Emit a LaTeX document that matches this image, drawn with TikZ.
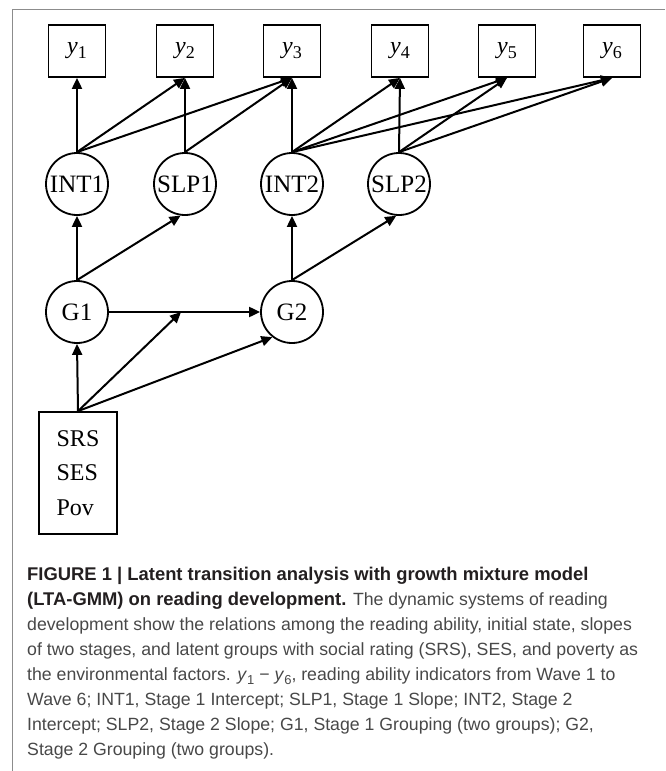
\documentclass[tikz,border=0pt]{standalone}
\usepackage{fontspec}
\setmainfont{Liberation Serif}
\newfontfamily\capfont{Liberation Sans}
\usetikzlibrary{arrows.meta}
\definecolor{framegray}{RGB}{140,140,140}
\definecolor{captxt}{RGB}{72,72,72}
\definecolor{capbold}{RGB}{35,31,32}
\newcommand\ylab[1]{\textit{y}\raisebox{-0.18em}{\fontsize{18}{18}\selectfont #1}}
\newcommand\ycap[1]{\textit{y}\raisebox{-0.25em}{\fontsize{13}{13}\selectfont #1}}
\newcommand\capb[1]{\textcolor{capbold}{\fontsize{18.4}{25}\selectfont\bfseries #1}}
\begin{document}
\begin{tikzpicture}[x=1pt,y=-1pt,
  obs/.style={draw, line width=1.8pt, minimum width=57pt, minimum height=52pt, inner sep=0pt, font=\fontsize{24}{24}\selectfont},
  lat/.style={draw, circle, line width=1.8pt, minimum size=62pt, inner sep=0pt, font=\fontsize{25}{25}\selectfont},
  arr/.style={-{Triangle[length=11pt,width=10pt]}, line width=2pt},
  capline/.style={anchor=base west, inner sep=0pt, text=captxt, font=\capfont\fontsize{17.7}{25}\selectfont}]
\useasboundingbox (0,0) rectangle (665,771);
\draw[framegray, line width=1pt] (12,771) -- (12,9) -- (665,9);
% observed
\node[obs] (y1) at (77,51) {\ylab{1}};
\node[obs] (y2) at (185,51) {\ylab{2}};
\node[obs] (y3) at (292,51) {\ylab{3}};
\node[obs] (y4) at (400,51) {\ylab{4}};
\node[obs] (y5) at (507,51) {\ylab{5}};
\node[obs] (y6) at (612,51) {\ylab{6}};
% latent
\node[lat] (I1) at (77,184) {INT1};
\node[lat] (S1) at (185,184) {SLP1};
\node[lat] (I2) at (292,184) {INT2};
\node[lat] (S2) at (399,184) {SLP2};
\node[lat] (G1) at (77,312) {G1};
\node[lat] (G2) at (292,312) {G2};
\node[draw, line width=1.8pt, minimum width=78pt, minimum height=122pt, align=left, font=\fontsize{24}{34.5}\selectfont] (X) at (78,473) {SRS\\SES\\Pov};
\coordinate (m) at (181,312);
% arrows to indicators
\draw[arr] (I1.north) -- (y1.south);
\draw[arr] (I1.north) -- (y2.south);
\draw[arr] (I1.north) -- (y3.south);
\draw[arr] (S1.north) -- (y2.south);
\draw[arr] (S1.north) -- (y3.south);
\draw[arr] (I2.north) -- (y3.south);
\draw[arr] (I2.north) -- (y4.south);
\draw[arr] (I2.north) -- (y5.south);
\draw[arr] (I2.north) -- (y6.south);
\draw[arr] (S2.north) -- (y4.south);
\draw[arr] (S2.north) -- (y5.south);
\draw[arr] (S2.north) -- (y6.south);
% groups
\draw[arr] (G1.north) -- (I1.south);
\draw[arr] (G1.north) -- (S1.262);
\draw[arr] (G2.north) -- (I2.south);
\draw[arr] (G2.north) -- (S2.265);
\draw[arr] (G1.east) -- (G2.west);
% covariates
\draw[arr] (X.north) -- (G1.south);
\draw[arr] (X.north) -- (m);
\draw[arr] (X.north) -- (G2.232);
% caption
\node[capline] (c1) at (27,580.5) {\capb{FIGURE 1 | Latent transition analysis with growth mixture model}};
\node[capline] (c2) at (27,605.5) {\capb{(LTA-GMM) on reading development.} The dynamic systems of reading};
\node[capline] (c3) at (27,630.5) {development show the relations among the reading ability, initial state, slopes};
\node[capline] (c4) at (27,655.5) {of two stages, and latent groups with social rating (SRS), SES, and poverty as};
\node[capline] (c5) at (27,680.5) {the environmental factors. \ycap{1} − \ycap{6}, reading ability indicators from Wave 1 to};
\node[capline] (c6) at (27,705.5) {Wave 6; INT1, Stage 1 Intercept; SLP1, Stage 1 Slope; INT2, Stage 2};
\node[capline] (c7) at (27,730.5) {Intercept; SLP2, Stage 2 Slope; G1, Stage 1 Grouping (two groups); G2,};
\node[capline] (c8) at (27,755.5) {Stage 2 Grouping (two groups).};
\end{tikzpicture}
\end{document}
